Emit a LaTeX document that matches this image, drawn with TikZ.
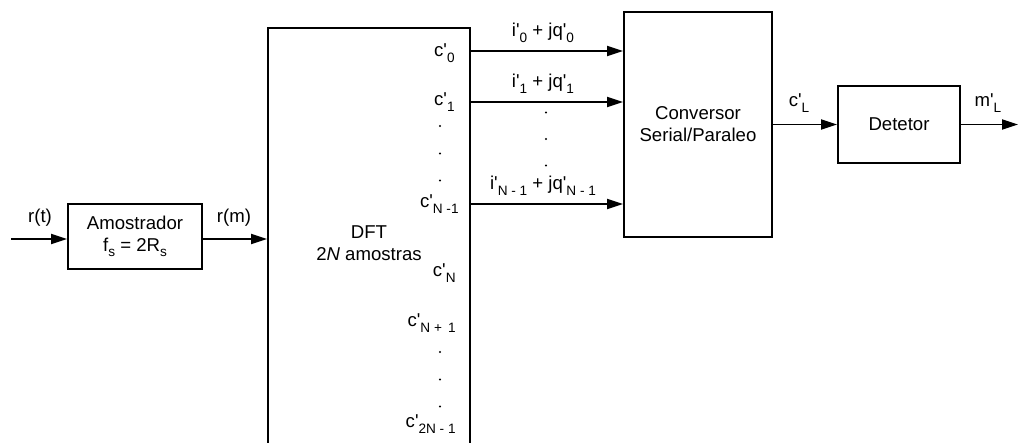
\documentclass[tikz,border=0pt]{standalone}
\usepackage{fontspec}
\setmainfont{Liberation Sans}[Ligatures=TeXOff]
\usetikzlibrary{arrows.meta}
\newcommand{\lsb}[1]{\raisebox{-2.6pt}{\fontsize{6.8pt}{8pt}\selectfont #1}}
\tikzset{
  blk/.style={draw, line width=0.9pt, rectangle, inner sep=0pt},
  arr/.style={line width=0.9pt, -{Triangle[length=8pt,width=5pt]}},
  lbl/.style={inner sep=0pt, font=\fontsize{9.3pt}{11pt}\selectfont},
  dot/.style={fill=black}
}
\begin{document}
\begin{tikzpicture}[x=0.5pt,y=-0.5pt]
\clip (0,0) rectangle (1019,443);
% blocks
\node[blk, minimum width=67pt, minimum height=32.5pt,
  label={[lbl,align=center]center:Amostrador\\f\lsb{s} = 2R\lsb{s}}] (amos) at (135,236.5) {};
\node[blk, minimum width=101pt, minimum height=226pt,
  label={[lbl,align=center,yshift=5.5pt]center:DFT\\2\textit{N} amostras}] (dft) at (369,254) {};
\node[blk, minimum width=74pt, minimum height=112.5pt,
  label={[lbl,align=center]center:Conversor\\Serial/Paraleo}] (conv) at (698,124.5) {};
\node[blk, minimum width=61pt, minimum height=38.5pt,
  label={[lbl]center:Detetor}] (det) at (899,124.5) {};
% input / output
\coordinate (in) at (11,239);
\coordinate (out) at (1018,124.5);
\draw[arr] (in) -- (in -| amos.west);
\draw[arr] (amos.east |- in) -- (in -| dft.west);
\node[lbl, anchor=base] (rt) at (40,223) {r(t)};
\node[lbl, anchor=base] (rm) at (234,223) {r(m)};
% DFT outputs
\draw[arr] (dft.east |- 0,51) -- (conv.west |- 0,51);
\draw[arr] (dft.east |- 0,102) -- (conv.west |- 0,102);
\draw[arr] (dft.east |- 0,204) -- (conv.west |- 0,204);
\node[lbl, anchor=base] (i0) at (543,37) {i'\lsb{0} + jq'\lsb{0}};
\node[lbl, anchor=base] (i1) at (543,88) {i'\lsb{1} + jq'\lsb{1}};
\node[lbl, anchor=base] (iN) at (543,190) {i'\lsb{N - 1} + jq'\lsb{N - 1}};
\fill[dot] (546,112.5) circle (1.2);
\fill[dot] (546,139) circle (1.2);
\fill[dot] (546,165.5) circle (1.2);
% DFT coefficient labels
\node[lbl, anchor=base east] (c0) at (455,57) {c'\lsb{0}};
\node[lbl, anchor=base east] (c1) at (455,106) {c'\lsb{1}};
\node[lbl, anchor=base east] (cN1) at (459,208) {c'\lsb{N -1}};
\node[lbl, anchor=base east] (cN) at (456,277) {c'\lsb{N}};
\node[lbl, anchor=base east] (cNp) at (456,327) {c'\lsb{N + \,1}};
\node[lbl, anchor=base east] (c2N) at (456,428) {c'\lsb{2N - 1}};
\fill[dot] (440,126) circle (1.2);
\fill[dot] (440,153.5) circle (1.2);
\fill[dot] (440,180.5) circle (1.2);
\fill[dot] (440,352) circle (1.2);
\fill[dot] (440,379.5) circle (1.2);
\fill[dot] (440,406.5) circle (1.2);
% conversor -> detetor -> out
\draw[arr] (conv.east) -- (det.west);
\draw[arr] (det.east) -- (out);
\node[lbl, anchor=base] (cL) at (799,107) {c'\lsb{L}};
\node[lbl, anchor=base] (mL) at (988,107) {m'\lsb{L}};
\end{tikzpicture}
\end{document}
